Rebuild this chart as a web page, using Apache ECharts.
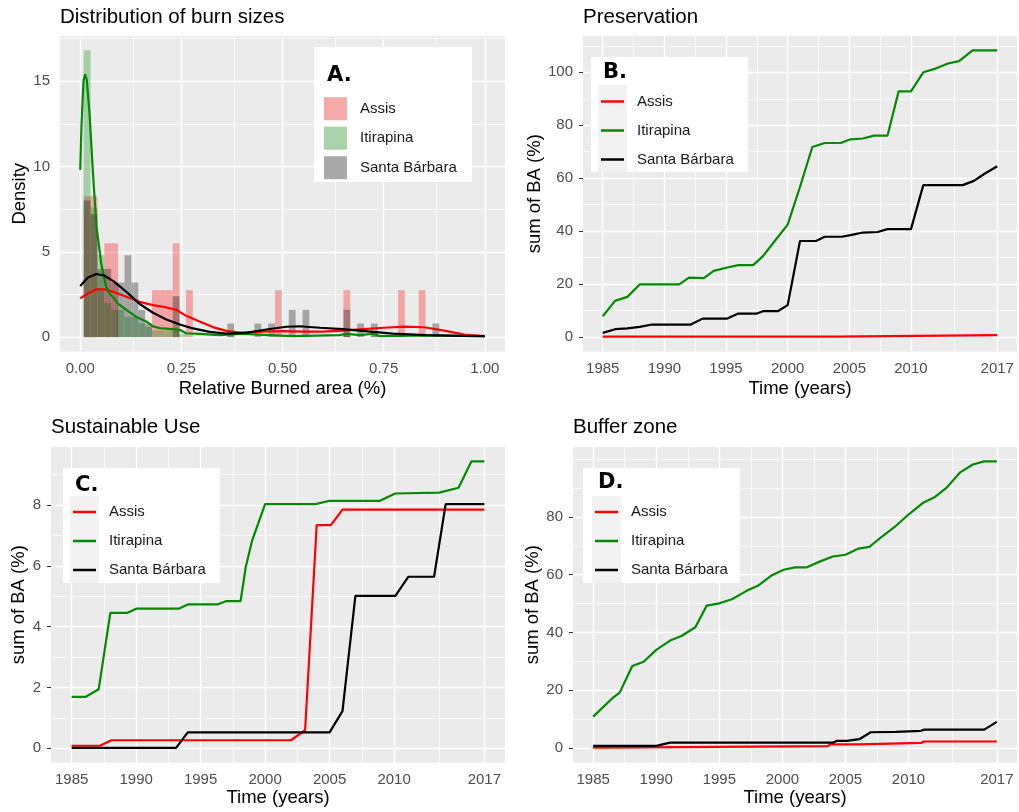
<!DOCTYPE html>
<html>
<head>
<meta charset="utf-8">
<script src="https://cdn.jsdelivr.net/npm/echarts@6/dist/echarts.min.js"></script>
<style>
html, body { margin: 0; padding: 0; background: #fff; }
#chart { width: 1019px; height: 812px; }
</style>
</head>
<body>
<div id="chart"></div>
<script>
// ---- data ----
var siteNames = ['Assis', 'Itirapina', 'Santa Bárbara'];
var siteColors = ['#FF0000', '#008B00', '#000000'];
var fillColors = ['rgba(255,0,0,0.3)', 'rgba(0,139,0,0.3)', 'rgba(0,0,0,0.3)'];

// A. histogram bins [bin centre, density]
var binWidth = 0.0169;
var histAssis = [[0.017,8.25],[0.034,8.25],[0.051,2.75],[0.068,5.5],[0.085,5.5],[0.186,2.75],[0.203,2.75],[0.220,2.75],[0.237,5.5],[0.270,2.75],[0.490,2.75],[0.659,2.75],[0.794,2.75],[0.845,2.75]];
var histItirapina = [[0.017,16.8],[0.034,7.6],[0.051,4.8],[0.068,2.0],[0.085,1.6],[0.101,1.6],[0.118,1.2],[0.135,1.2],[0.152,0.8],[0.169,0.6],[0.186,0.4],[0.203,0.4],[0.220,0.4],[0.237,0.4],[0.254,0.2],[0.372,0.2],[0.659,0.2],[0.727,0.2]];
var histSantaBarbara = [[0.017,8.0],[0.034,7.2],[0.051,4.0],[0.068,4.0],[0.085,3.2],[0.101,3.2],[0.118,4.8],[0.135,3.2],[0.152,1.6],[0.169,0.8],[0.237,2.4],[0.372,0.8],[0.439,0.8],[0.473,0.8],[0.524,1.6],[0.558,1.6],[0.659,1.6],[0.693,0.8],[0.727,0.8],[0.879,0.8]];

// A. density curves [relative area, density]
var densAssis = [[0,2.27],[0.019,2.56],[0.04,2.8],[0.06,2.8],[0.081,2.66],[0.114,2.37],[0.147,2.07],[0.18,1.88],[0.213,1.74],[0.238,1.6],[0.262,1.25],[0.295,0.92],[0.328,0.59],[0.361,0.37],[0.394,0.27],[0.45,0.32],[0.5,0.35],[0.55,0.33],[0.6,0.32],[0.65,0.38],[0.7,0.47],[0.75,0.55],[0.8,0.62],[0.85,0.58],[0.9,0.38],[0.95,0.15],[1.0,0.06]];
var densItirapina = [[0,9.8],[0.003,12.3],[0.008,15.0],[0.012,15.4],[0.016,15.1],[0.023,13.1],[0.031,9.8],[0.04,6.5],[0.052,4.3],[0.064,2.95],[0.072,2.56],[0.081,2.36],[0.093,1.97],[0.114,1.6],[0.138,1.2],[0.163,0.92],[0.18,0.63],[0.196,0.53],[0.229,0.47],[0.246,0.43],[0.262,0.23],[0.295,0.19],[0.345,0.12],[0.402,0.2],[0.44,0.15],[0.526,0.06],[0.641,0.12],[0.658,0.2],[0.69,0.12],[0.725,0.2],[0.74,0.06],[0.856,0.1],[0.94,0.08],[1.0,0.06]];
var densSantaBarbara = [[0,3.0],[0.019,3.5],[0.04,3.7],[0.06,3.6],[0.081,3.3],[0.114,2.66],[0.147,1.94],[0.18,1.43],[0.213,1.04],[0.246,0.74],[0.279,0.51],[0.32,0.31],[0.361,0.21],[0.41,0.25],[0.46,0.45],[0.51,0.61],[0.542,0.64],[0.592,0.55],[0.65,0.47],[0.724,0.31],[0.773,0.21],[0.856,0.12],[0.94,0.08],[1.0,0.06]];

// B. Preservation [year, sum of BA %]
var presAssis = [[1985,0.2],[2003.9,0.2],[2004,0.8],[2017,0.8]];
var presItirapina = [[1985,7.9],[1986,13.7],[1987,15.2],[1988,19.9],[1991.2,19.9],[1992,22.5],[1993.2,22.3],[1994,25.0],[1995.1,26.3],[1996,27.2],[1997.2,27.2],[1998,30.6],[1999,36.6],[2000,42.5],[2001,56.7],[2002,71.8],[2003,73.3],[2004.3,73.3],[2005.1,74.7],[2006.1,75.0],[2007,76.1],[2008.1,76.1],[2009,92.8],[2010,92.8],[2011,100.0],[2012,101.4],[2013,103.3],[2013.9,104.2],[2015,108.3],[2017,108.3]];
var presSantaBarbara = [[1985,1.6],[1986,3.0],[1987,3.3],[1988,3.9],[1988.9,4.7],[1992.1,4.7],[1993.1,7.0],[1995.1,7.0],[1996,8.9],[1997.5,8.9],[1998,9.8],[1999.2,9.8],[2000,12.1],[2001,36.3],[2002.3,36.3],[2003,37.9],[2004.4,37.9],[2005.1,38.5],[2006.1,39.5],[2007.3,39.7],[2008.1,40.8],[2010,40.8],[2011,57.4],[2014.2,57.4],[2015.1,59.0],[2016,61.8],[2017,64.5]];

// C. Sustainable Use
var susAssis = [[1985,0.08],[1987.2,0.08],[1988.1,0.26],[2002,0.26],[2003.1,0.59],[2004,7.34],[2005.1,7.34],[2006,7.85],[2017,7.85]];
var susItirapina = [[1985,1.69],[1986.1,1.69],[1987.1,1.94],[1988,4.45],[1989.3,4.45],[1990,4.59],[1993.3,4.59],[1994,4.73],[1996.3,4.73],[1997,4.84],[1998.1,4.84],[1998.5,5.96],[1999,6.84],[2000,8.03],[2003.9,8.03],[2005,8.14],[2008.9,8.14],[2010.1,8.38],[2013.5,8.41],[2015,8.57],[2016,9.44],[2017,9.44]];
var susSantaBarbara = [[1985,0.01],[1993.1,0.01],[1994,0.52],[2005,0.52],[2006,1.22],[2007,5.01],[2010.1,5.01],[2011.1,5.64],[2013.1,5.64],[2014,8.03],[2017,8.03]];

// D. Buffer zone
var bufAssis = [[1985,0.2],[1986,0.2],[1986.1,0.6],[2003.6,0.7],[2003.8,1.3],[2006,1.3],[2006.1,1.8],[2011,1.8],[2011.2,2.3],[2017,2.3]];
var bufItirapina = [[1985,10.9],[1986.5,17.2],[1987.1,19.2],[1988.1,28.4],[1989,29.9],[1990,34.0],[1991.1,37.2],[1992,38.8],[1993.1,41.8],[1994,49.3],[1995,50.1],[1996,51.5],[1997.2,54.5],[1998.1,56.3],[1999.1,59.6],[2000.1,61.7],[2001,62.5],[2001.9,62.5],[2003,64.6],[2004,66.3],[2005,66.9],[2006,69.0],[2006.9,69.6],[2007.9,73.2],[2008.9,76.5],[2010,80.8],[2011.2,85.0],[2012.1,86.9],[2013,90.0],[2014.1,95.4],[2015.1,98.1],[2016,99.2],[2017,99.2]];
var bufSantaBarbara = [[1985,0.8],[1990,0.8],[1990.5,1.3],[1991.1,1.9],[2004,1.9],[2004.3,2.5],[2005.1,2.5],[2005.2,3.0],[2006.1,3.1],[2007,5.5],[2009,5.6],[2009.1,6.0],[2011,6.0],[2011.2,6.4],[2016,6.4],[2017,9.1]];

// tick labels and grid breaks
var areaTicks = [0, 0.25, 0.5, 0.75, 1];
var areaMinor = [0.125, 0.375, 0.625, 0.875];
var densityTicks = [0, 5, 10, 15];
var densityMinor = [2.5, 7.5, 12.5, 17.5];
var yearTicks = [1985, 1990, 1995, 2000, 2005, 2010, 2017];
var yearMinor = [1987.5, 1992.5, 1997.5, 2002.5, 2007.5, 2013.5];
var presTicks = [0, 20, 40, 60, 80, 100];
var presMinor = [10, 30, 50, 70, 90, 110];
var susTicks = [0, 2, 4, 6, 8];
var susMinor = [1, 3, 5, 7, 9];
var bufTicks = [0, 20, 40, 60, 80];
var bufMinor = [10, 30, 50, 70, 90, 100];

// ---- chart ----
var FONT = '"Liberation Sans", Arial, sans-serif';
var chart = echarts.init(document.getElementById('chart'));

var yearFmt = function (v) { return String(v); };
var panels = [
  { grid: {left: 60, top: 36, width: 445, height: 315.5}, xMin: -0.05, xMax: 1.05, yMin: -0.84, yMax: 17.64,
    xTicks: areaTicks, xMinor: areaMinor, yTicks: densityTicks, yMinor: densityMinor,
    xName: 'Relative Burned area (%)', yName: 'Density', xGap: 28, yGap: 31,
    xFmt: function (v) { return v.toFixed(2); } },
  { grid: {left: 583, top: 36, width: 434, height: 315.5}, xMin: 1983.4, xMax: 2018.6, yMin: -5.415, yMax: 113.7,
    xTicks: yearTicks, xMinor: yearMinor, yTicks: presTicks, yMinor: presMinor,
    xName: 'Time (years)', yName: 'sum of BA (%)', xGap: 28, yGap: 39, xFmt: yearFmt },
  { grid: {left: 51, top: 447, width: 454, height: 315.5}, xMin: 1983.4, xMax: 2018.6, yMin: -0.472, yMax: 9.91,
    xTicks: yearTicks, xMinor: yearMinor, yTicks: susTicks, yMinor: susMinor,
    xName: 'Time (years)', yName: 'sum of BA (%)', xGap: 26, yGap: 23, xFmt: yearFmt },
  { grid: {left: 573, top: 447, width: 444, height: 315.5}, xMin: 1983.4, xMax: 2018.6, yMin: -4.96, yMax: 104.16,
    xTicks: yearTicks, xMinor: yearMinor, yTicks: bufTicks, yMinor: bufMinor,
    xName: 'Time (years)', yName: 'sum of BA (%)', xGap: 26, yGap: 29, xFmt: yearFmt }
];

function makeAxis(p, i, dim) {
  var isX = dim === 'x';
  var ticks = isX ? p.xTicks : p.yTicks;
  return {
    type: 'value', gridIndex: i,
    min: isX ? p.xMin : p.yMin, max: isX ? p.xMax : p.yMax,
    axisLine: { show: false },
    axisTick: { show: true, customValues: ticks, length: 4, lineStyle: { color: '#333333', width: 1 } },
    axisLabel: { customValues: ticks, formatter: isX ? p.xFmt : null, color: '#4D4D4D',
                 fontSize: 15, fontFamily: FONT, margin: 10 },
    splitLine: { show: false },
    name: isX ? p.xName : p.yName, nameLocation: 'middle', nameGap: isX ? p.xGap : p.yGap,
    nameTextStyle: { fontSize: 18.5, color: '#000', fontFamily: FONT }
  };
}

// white ggplot-style grid lines, drawn as mark lines under the data
function gridLines(p, i) {
  var d = [];
  p.xMinor.forEach(function (v) { d.push({ xAxis: v, lineStyle: { width: 0.7 } }); });
  p.yMinor.forEach(function (v) { d.push({ yAxis: v, lineStyle: { width: 0.7 } }); });
  p.xTicks.forEach(function (v) { d.push({ xAxis: v, lineStyle: { width: 1.4 } }); });
  p.yTicks.forEach(function (v) { d.push({ yAxis: v, lineStyle: { width: 1.4 } }); });
  return {
    type: 'line', name: 'grid' + i, xAxisIndex: i, yAxisIndex: i, data: [], silent: true,
    markLine: { silent: true, symbol: ['none', 'none'], label: { show: false }, z: 1,
                animation: false, lineStyle: { color: '#FFFFFF', type: 'solid' }, data: d }
  };
}

function lineSeries(i, name, data, color) {
  return { type: 'line', name: name, xAxisIndex: i, yAxisIndex: i, data: data, symbol: 'none',
           showSymbol: false, color: color, lineStyle: { width: 2.2, color: color }, z: 3 };
}

function histSeries(name, data, fill) {
  return {
    type: 'custom', name: name, xAxisIndex: 0, yAxisIndex: 0, data: data, z: 2,
    encode: { x: 0, y: 1 }, itemStyle: { color: fill },
    renderItem: function (params, api) {
      var top = api.coord([api.value(0) - binWidth / 2, api.value(1)]);
      var base = api.coord([api.value(0) + binWidth / 2, 0]);
      return { type: 'rect', shape: { x: top[0], y: top[1], width: base[0] - top[0], height: base[1] - top[1] },
               style: api.style() };
    }
  };
}

var series = panels.map(gridLines);
[histAssis, histItirapina, histSantaBarbara].forEach(function (h, k) {
  series.push(histSeries(siteNames[k], h, fillColors[k]));
});
[densAssis, densItirapina, densSantaBarbara].forEach(function (d, k) {
  series.push(lineSeries(0, 'dens|' + siteNames[k], d, siteColors[k]));
});
var timePanels = [
  ['B', 1, [presAssis, presItirapina, presSantaBarbara]],
  ['C', 2, [susAssis, susItirapina, susSantaBarbara]],
  ['D', 3, [bufAssis, bufItirapina, bufSantaBarbara]]
];
timePanels.forEach(function (tp) {
  tp[2].forEach(function (d, k) {
    series.push(lineSeries(tp[1], tp[0] + '|' + siteNames[k], d, siteColors[k]));
  });
});

function legendFor(prefix, left, top, iconH, rowH) {
  return {
    data: siteNames.map(function (n) { return { name: prefix + n, icon: 'rect' }; }),
    orient: 'vertical', left: left, top: top, itemWidth: 23, itemHeight: iconH, itemGap: 0,
    padding: 0, selectedMode: false, z: 7, itemStyle: { borderWidth: 0 },
    formatter: function (n) { return n.split('|').pop(); },
    textStyle: { fontSize: 15, fontFamily: FONT, color: '#1A1A1A', lineHeight: rowH, padding: [0, 0, 0, 8] }
  };
}

function titleText(text, left, top, size, bold) {
  return { text: text, left: left, top: top, padding: 0, z: 8,
           textStyle: { fontSize: size, fontWeight: bold ? 'bold' : 'normal', color: '#000',
                        fontFamily: bold ? '"DejaVu Sans", sans-serif' : FONT } };
}

function rect(x, y, w, h, fill, z) {
  return { type: 'rect', shape: { x: x, y: y, width: w, height: h }, style: { fill: fill }, z: z, silent: true };
}

chart.setOption({
  animation: false,
  backgroundColor: '#FFFFFF',
  grid: panels.map(function (p) {
    return { left: p.grid.left, top: p.grid.top, width: p.grid.width, height: p.grid.height,
             show: true, backgroundColor: '#EBEBEB', borderWidth: 0 };
  }),
  xAxis: panels.map(function (p, i) { return makeAxis(p, i, 'x'); }),
  yAxis: panels.map(function (p, i) { return makeAxis(p, i, 'y'); }),
  title: [
    titleText('Distribution of burn sizes', 60, 7, 20.5, false),
    titleText('Preservation', 583, 7, 20.5, false),
    titleText('Sustainable Use', 51, 417, 20.5, false),
    titleText('Buffer zone', 573, 417, 20.5, false),
    titleText('A.', 327, 65, 21, true),
    titleText('B.', 603, 62, 21, true),
    titleText('C.', 75, 475, 21, true),
    titleText('D.', 598, 472, 21, true)
  ],
  legend: [
    legendFor('', 324, 94, 23, 29.5),
    legendFor('B|', 601, 87, 2.5, 29),
    legendFor('C|', 73, 497.5, 2.5, 29),
    legendFor('D|', 595, 497.5, 2.5, 29)
  ],
  graphic: [
    rect(314, 47, 158, 135, '#FFFFFF', 5),
    rect(591, 57, 157, 115, '#FFFFFF', 5),
    rect(63, 468, 157, 115, '#FFFFFF', 5),
    rect(583, 468, 157, 115, '#FFFFFF', 5),
    rect(324, 97, 23, 23, '#F2F2F2', 6),
    rect(324, 126.5, 23, 23, '#F2F2F2', 6),
    rect(324, 156, 23, 23, '#F2F2F2', 6),
    rect(598, 85, 29, 87, '#F2F2F2', 6),
    rect(70, 496, 29, 87, '#F2F2F2', 6),
    rect(592, 496, 29, 87, '#F2F2F2', 6)
  ],
  series: series
});
</script>
</body>
</html>
